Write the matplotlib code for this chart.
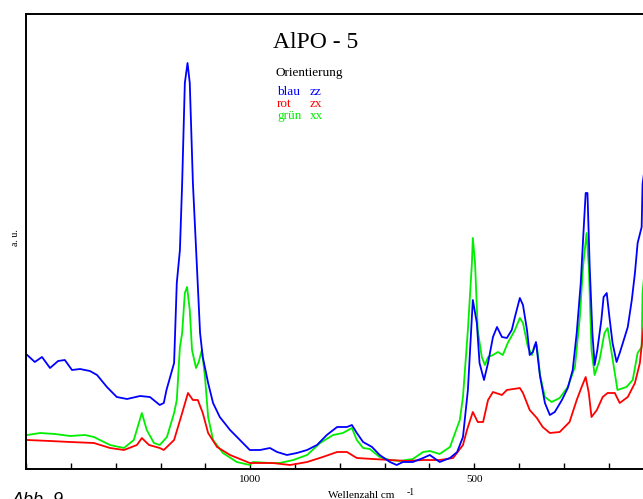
import matplotlib
matplotlib.use("Agg")
import matplotlib.pyplot as plt
from matplotlib.ticker import FixedLocator, MultipleLocator

# Raman spectra AlPO-5, three orientations (wavenumber in cm^-1, intensity in a.u.)
wn_blue = [1498, 1481, 1465, 1447, 1429, 1414, 1398, 1380, 1358, 1342, 1320, 1298,
           1275, 1246, 1224, 1202, 1193, 1187, 1170, 1164, 1157, 1152, 1146, 1140,
           1135, 1128, 1119, 1112, 1106, 1094, 1083, 1068, 1045, 1023, 1001, 978,
           956, 940, 918, 896, 873, 851, 829, 806, 784, 773, 762, 748, 728, 711,
           688, 673, 659, 637, 614, 599, 577, 554, 538, 525, 514, 503, 494, 488,
           478, 469, 458, 449, 438, 427, 416, 409, 398, 391, 382, 376, 369, 362,
           353, 342, 331, 320, 304, 291, 280, 271, 262, 256, 251, 247, 242, 236,
           231, 225, 216, 211, 204, 198, 191, 182, 175, 168, 157, 148, 141, 135,
           126, 124, 118]
int_blue = [114, 107, 112, 101, 108, 109, 99, 100, 98, 94, 82, 72,
            70, 73, 72, 64, 66, 79, 106, 186, 219, 286, 386, 406,
            386, 286, 202, 136, 112, 86, 66, 52, 39, 29, 19, 19,
            21, 17, 14, 16, 19, 24, 34, 42, 42, 44, 36, 27, 22, 14,
            7, 4, 7, 7, 11, 14, 7, 11, 17, 32, 79, 169, 146, 106,
            89, 106, 132, 142, 132, 131, 139, 152, 171, 164, 139, 114, 117, 127,
            93, 66, 54, 57, 69, 81, 99, 136, 186, 236, 276, 276, 202, 136,
            104, 119, 149, 172, 176, 152, 126, 107, 116, 126, 142, 169, 196, 226,
            242, 285, 305]

wn_red = [1498, 1447, 1402, 1349, 1313, 1282, 1253, 1242, 1226, 1202, 1193, 1170,
          1152, 1139, 1128, 1117, 1106, 1094, 1074, 1045, 1001, 950, 911, 873,
          838, 806, 784, 762, 726, 688, 650, 614, 577, 547, 525, 516, 503, 492,
          480, 469, 458, 438, 427, 398, 391, 376, 360, 347, 331, 309, 287, 271,
          260, 251, 244, 238, 226, 213, 202, 186, 175, 157, 141, 130, 124, 118]
int_red = [29, 28, 27, 26, 21, 19, 24, 31, 24, 21, 19, 29,
           56, 76, 69, 69, 56, 36, 22, 14, 6, 6, 4, 7,
           12, 17, 17, 11, 10, 9, 8, 9, 9, 11, 24, 39, 57, 47,
           47, 69, 77, 74, 79, 81, 76, 59, 51, 42, 36, 37, 47, 69,
           82, 92, 76, 52, 59, 72, 76, 76, 66, 72, 86, 106, 132, 155]

wn_green = [1498, 1469, 1436, 1402, 1369, 1349, 1313, 1282, 1260, 1242, 1231, 1215,
            1202, 1186, 1170, 1164, 1157, 1152, 1146, 1141, 1135, 1130, 1121, 1115,
            1108, 1101, 1094, 1083, 1061, 1030, 1001, 994, 956, 934, 904, 873,
            844, 815, 793, 773, 762, 748, 733, 711, 688, 666, 637, 614, 599, 577,
            554, 532, 525, 514, 505, 503, 498, 492, 483, 476, 469, 458, 447, 436,
            425, 409, 398, 391, 380, 371, 365, 360, 353, 342, 327, 309, 291, 275,
            264, 257, 249, 244, 238, 231, 220, 209, 202, 193, 180, 160, 146, 135,
            126, 124, 118]
int_green = [34, 36, 35, 33, 34, 32, 24, 21, 29, 56, 39, 26,
             24, 32, 56, 69, 122, 136, 176, 182, 159, 119, 101, 107,
             119, 92, 52, 29, 16, 7, 4, 7, 6, 6, 9, 14,
             26, 34, 36, 41, 29, 21, 20, 12, 9, 8, 10, 17, 18, 15,
             22, 49, 72, 139, 206, 231, 206, 139, 112, 104, 112, 114, 117, 114,
             126, 139, 151, 146, 122, 114, 124, 124, 94, 72, 67, 71, 82, 102,
             152, 202, 236, 202, 119, 94, 109, 136, 141, 116, 79, 82, 89, 116,
             122, 176, 205]

xticks_major = [1000, 500]
xtick_labels = ["1000", "500"]

legend_rows = [("blau", "zz", "#0000ff"), ("rot", "zx", "#ff0000"), ("grün", "xx", "#00ee00")]

fig = plt.figure(figsize=(6.43, 4.99), dpi=100)
ax = fig.add_axes([26.3 / 643, 30 / 499, 627 / 643, 455 / 499])

ax.plot(wn_green, int_green, color="#00ee00", lw=1.3)
ax.plot(wn_red, int_red, color="#ff0000", lw=1.3)
ax.plot(wn_blue, int_blue, color="#0000ff", lw=1.3)

ax.set_xlim(1500, 100)
ax.set_ylim(0, 455)

ax.spines["right"].set_visible(False)
for s in ["left", "bottom", "top"]:
    ax.spines[s].set_linewidth(1.4)

ax.xaxis.set_major_locator(FixedLocator(xticks_major))
ax.set_xticklabels(xtick_labels, family="Liberation Serif", fontsize=8)
ax.xaxis.set_minor_locator(MultipleLocator(100))
ax.tick_params(axis="x", which="both", direction="in", length=4, width=1.0, pad=4)
ax.set_yticks([])

# texts
fig.text(316 / 643, 1 - 42 / 499, "AlPO - 5", ha="center", va="center",
         family="Liberation Serif", fontsize=17)
fig.text(276 / 643, 1 - 73 / 499, "Orientierung", ha="left", va="center",
         family="Liberation Serif", fontsize=9.5)
for i, (name, orient, col) in enumerate(legend_rows):
    y = 1 - (92 + 12 * i) / 499
    fig.text(277 / 643, y, name, ha="left", va="center", color=col,
             family="Liberation Serif", fontsize=9.5)
    fig.text(310 / 643, y, orient, ha="left", va="center", color=col,
             family="Liberation Serif", fontsize=9.5)

fig.text(15 / 643, 1 - 238 / 499, "a. u.", rotation=90, ha="center", va="center",
         family="Liberation Serif", fontsize=7)
fig.text(328 / 643, 1 - 491 / 499, "Wellenzahl cm", ha="left", va="top",
         family="Liberation Serif", fontsize=8)
fig.text(407 / 643, 1 - 488 / 499, "-1", ha="left", va="top",
         family="Liberation Serif", fontsize=7)
fig.text(12 / 643, 1 - 492 / 499, "Abb. 9", ha="left", va="top",
         family="Liberation Sans", style="italic", fontsize=13)

fig.savefig("out.png", dpi=100)
